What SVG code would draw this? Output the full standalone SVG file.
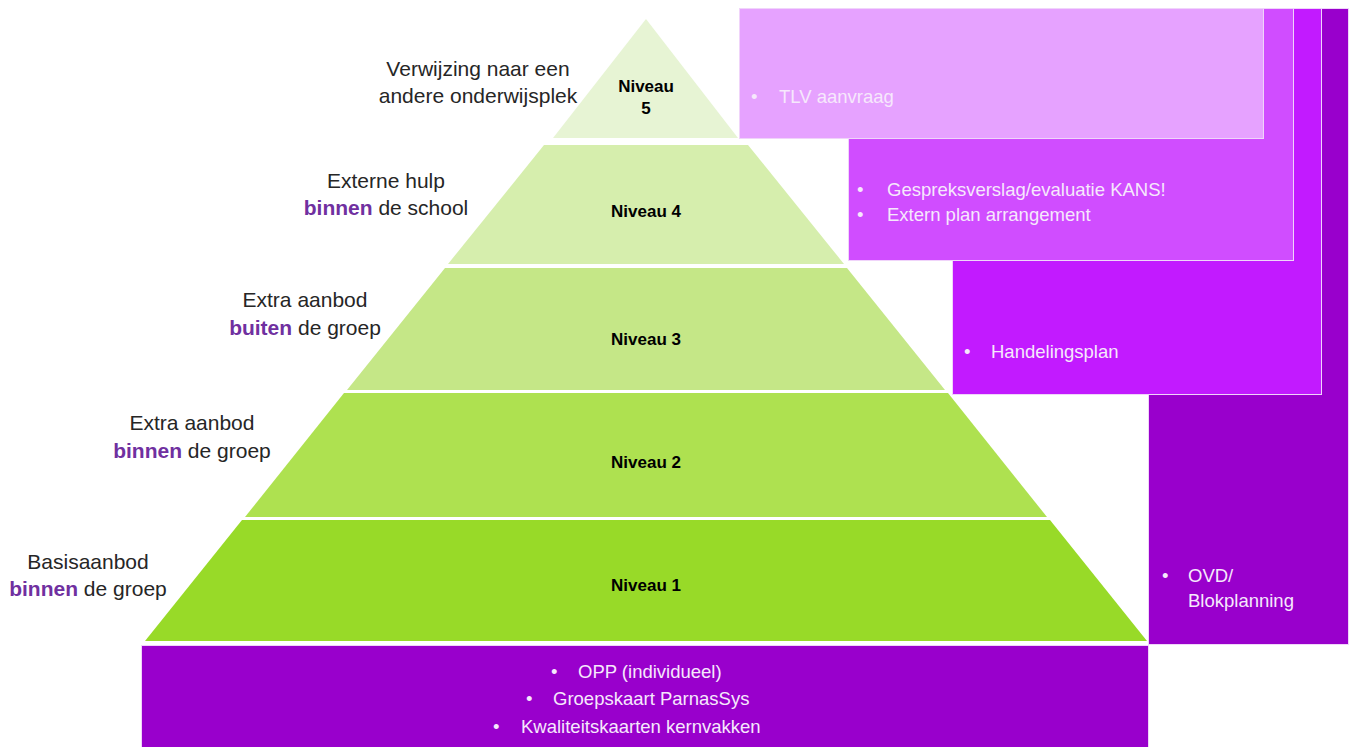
<svg xmlns="http://www.w3.org/2000/svg" width="1354" height="747" viewBox="0 0 1354 747">
<style>
.lbl{font-family:"Liberation Sans",Arial,sans-serif;font-size:21px;fill:#262626;text-anchor:middle}
.hl{font-weight:bold;fill:#7030A0}
.niv{font-family:"Liberation Sans",Arial,sans-serif;font-size:17px;font-weight:bold;fill:#000;text-anchor:middle}
.bx{font-family:"Liberation Sans",Arial,sans-serif;font-size:18.5px;fill:#F6E8FC}
.box{stroke:#F0D4FA;stroke-width:1}
</style>
<rect width="1354" height="747" fill="#fff"/>
<g id="box-ovd">
<rect class="box" x="1148.5" y="8.5" width="200" height="636" fill="#9900CC"/>
<text class="bx" x="1162" y="582">•</text>
<text class="bx" x="1188" y="582">OVD/</text>
<text class="bx" x="1188" y="607">Blokplanning</text>
</g>
<g id="box-handelingsplan">
<rect class="box" x="952.5" y="8.5" width="369" height="386" fill="#C21AFF"/>
<text class="bx" x="964" y="358">•</text>
<text class="bx" x="991" y="358">Handelingsplan</text>
</g>
<g id="box-kans">
<rect class="box" x="848.5" y="8.5" width="445" height="252" fill="#D04DFF"/>
<text class="bx" x="857" y="196">•</text>
<text class="bx" x="887" y="196">Gespreksverslag/evaluatie KANS!</text>
<text class="bx" x="857" y="221">•</text>
<text class="bx" x="887" y="221">Extern plan arrangement</text>
</g>
<g id="box-tlv">
<rect class="box" x="739.5" y="8.5" width="524" height="130" fill="#E6A2FF"/>
<text class="bx" x="751" y="103">•</text>
<text class="bx" x="779" y="103">TLV aanvraag</text>
</g>
<g id="box-bottom">
<rect class="box" x="141.5" y="645.5" width="1007" height="102" fill="#9900CC"/>
<text class="bx" x="551" y="678">•</text>
<text class="bx" x="578" y="678">OPP (individueel)</text>
<text class="bx" x="526" y="705">•</text>
<text class="bx" x="553" y="705">Groepskaart ParnasSys</text>
<text class="bx" x="493" y="733">•</text>
<text class="bx" x="521" y="733">Kwaliteitskaarten kernvakken</text>
</g>
<g id="niveau-1">
<polygon points="242,520 1050,520 1147,641 145,641" fill="#98DA28"/>
<text class="niv" x="646" y="591">Niveau 1</text>
</g>
<g id="niveau-2">
<polygon points="344,393 948,393 1047,517 245,517" fill="#AEE150"/>
<text class="niv" x="646" y="468">Niveau 2</text>
</g>
<g id="niveau-3">
<polygon points="445,268 847,268 945,390 347,390" fill="#C5E787"/>
<text class="niv" x="646" y="345">Niveau 3</text>
</g>
<g id="niveau-4">
<polygon points="544,145 748,145 844,264 448,264" fill="#D6EEAD"/>
<text class="niv" x="646" y="217">Niveau 4</text>
</g>
<g id="niveau-5">
<polygon points="646,19 738,138 553,138" fill="#E7F4D4"/>
<text class="niv" x="646" y="92">Niveau</text>
<text class="niv" x="646" y="114">5</text>
</g>
<g id="label-5">
<text class="lbl" x="478" y="76">Verwijzing naar een</text>
<text class="lbl" x="478" y="103">andere onderwijsplek</text>
</g>
<g id="label-4">
<text class="lbl" x="386" y="188">Externe hulp</text>
<text class="lbl" x="386" y="215"><tspan class="hl">binnen</tspan> de school</text>
</g>
<g id="label-3">
<text class="lbl" x="305" y="307">Extra aanbod</text>
<text class="lbl" x="305" y="335"><tspan class="hl">buiten</tspan> de groep</text>
</g>
<g id="label-2">
<text class="lbl" x="192" y="430">Extra aanbod</text>
<text class="lbl" x="192" y="458"><tspan class="hl">binnen</tspan> de groep</text>
</g>
<g id="label-1">
<text class="lbl" x="88" y="569">Basisaanbod</text>
<text class="lbl" x="88" y="596"><tspan class="hl">binnen</tspan> de groep</text>
</g>
<g id="connectors"/>
</svg>
